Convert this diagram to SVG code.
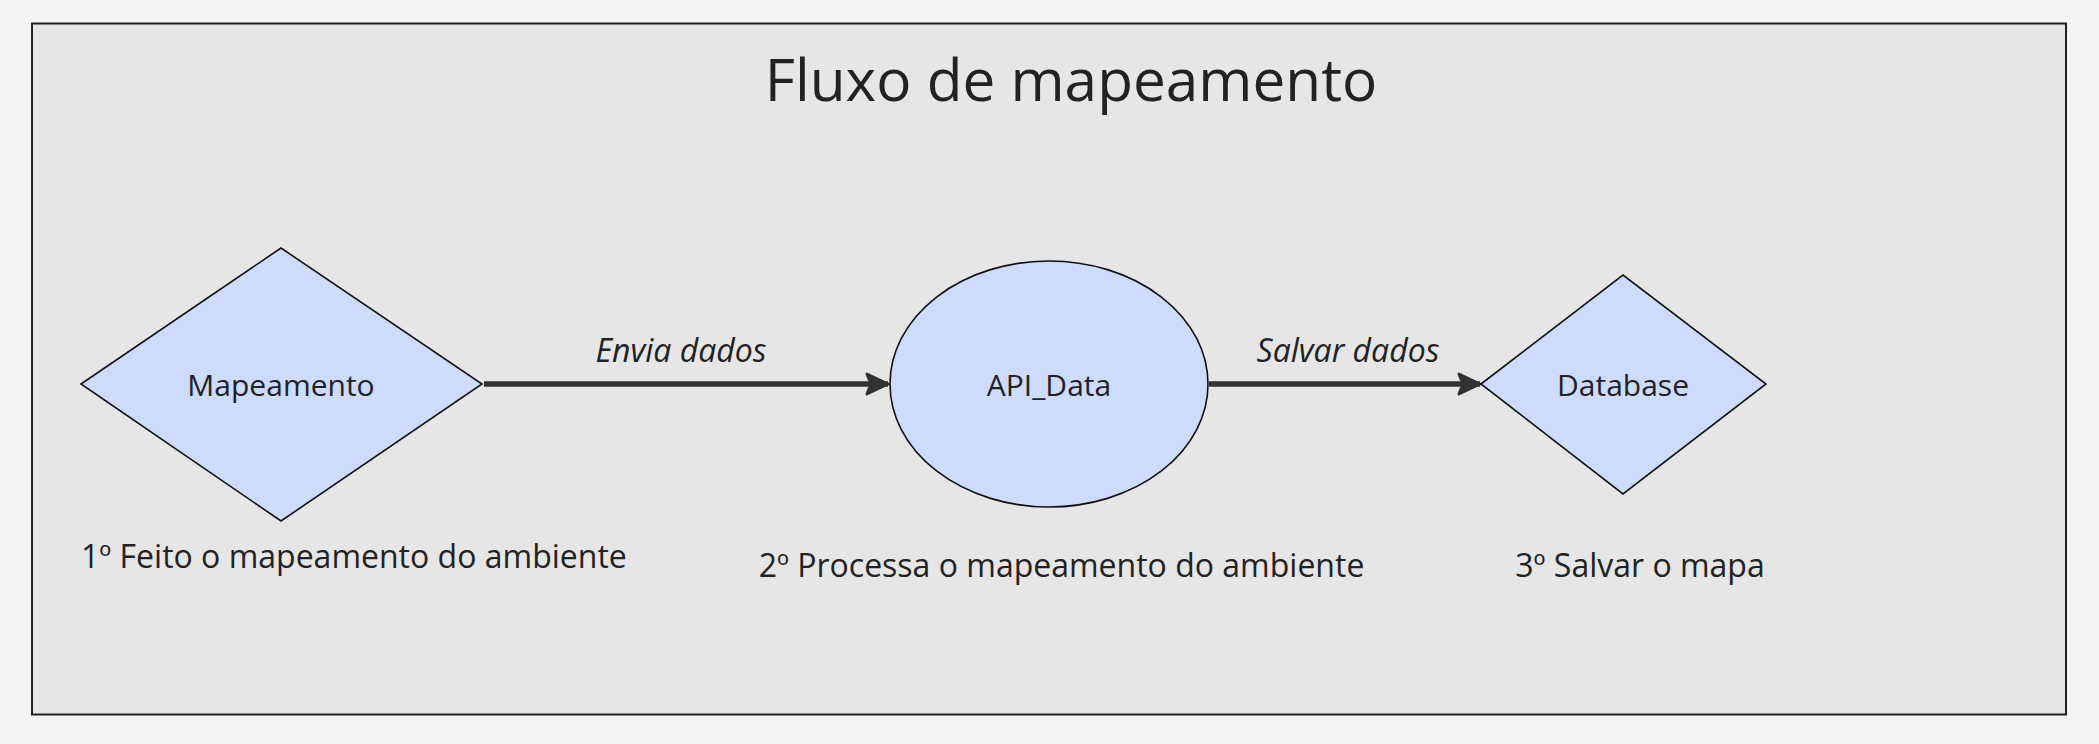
<svg xmlns="http://www.w3.org/2000/svg" width="2099" height="744" viewBox="0 0 2099 744">
<style>
.t{font-family:"Open Sans","Noto Sans","DejaVu Sans",sans-serif;fill:#222;}
.node{fill:#cddcfe;stroke:#111;stroke-width:1.6;}
.edge{stroke:#333;stroke-width:5.5;fill:none;}
.lbl{font-size:32px;font-style:italic;}
.note{font-size:32px;}
</style>
<defs>
<marker id="arr" markerUnits="userSpaceOnUse" markerWidth="26" markerHeight="26" viewBox="0 0 26 26" refX="24" refY="13" orient="auto">
<path d="M3,3 L24,13 L3,23 L7,13 Z" fill="#333" stroke="#333" stroke-width="3" stroke-linejoin="round"/>
</marker>
</defs>
<rect x="0" y="0" width="2099" height="744" fill="#f4f4f4"/>
<g id="frame">
<rect x="32" y="23.5" width="2034" height="691" fill="#e6e6e6" stroke="#222" stroke-width="2"/>
<text class="t" x="1071" y="101" font-size="58.5" text-anchor="middle">Fluxo de mapeamento</text>
</g>
<g id="connectors">
<line class="edge" x1="484" y1="384" x2="888" y2="384" marker-end="url(#arr)"/>
<text class="t lbl" x="681" y="362" text-anchor="middle">Envia dados</text>
<line class="edge" x1="1209" y1="384" x2="1480" y2="384" marker-end="url(#arr)"/>
<text class="t lbl" x="1348" y="362" text-anchor="middle">Salvar dados</text>
</g>
<g id="mapeamento">
<polygon class="node" points="81,384 281,248 482,384 281,521"/>
<text class="t" x="281" y="396" font-size="30" text-anchor="middle">Mapeamento</text>
</g>
<g id="api_data">
<ellipse class="node" cx="1049" cy="384" rx="159" ry="123"/>
<text class="t" x="1049" y="396" font-size="30" text-anchor="middle">API_Data</text>
</g>
<g id="database">
<polygon class="node" points="1481,384 1623,275 1766,384 1623,494"/>
<text class="t" x="1623" y="396" font-size="30" text-anchor="middle">Database</text>
</g>
<g id="notes">
<text class="t note" x="81" y="568">1º Feito o mapeamento do ambiente</text>
<text class="t note" x="1061.5" y="577" text-anchor="middle">2º Processa o mapeamento do ambiente</text>
<text class="t note" x="1640" y="577" text-anchor="middle">3º Salvar o mapa</text>
</g>
</svg>
